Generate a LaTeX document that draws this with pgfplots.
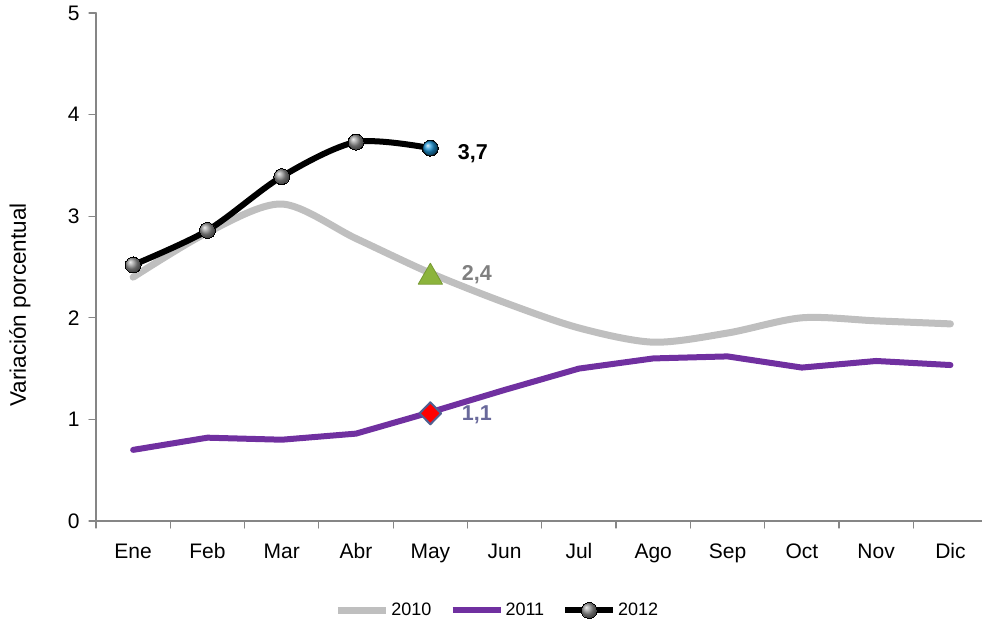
\documentclass[border=0pt]{standalone}
\usepackage{fontspec}
\setmainfont{Liberation Sans}
\usepackage{pgfplots}
\pgfplotsset{compat=1.18}
\definecolor{c2010}{RGB}{191,191,191}
\definecolor{c2011}{RGB}{112,48,160}
\definecolor{axgray}{RGB}{134,134,134}
\definecolor{lab11}{RGB}{105,105,155}
\definecolor{lab10}{RGB}{128,128,128}
\definecolor{tri}{RGB}{140,180,60}
\definecolor{blu}{RGB}{30,150,215}
\definecolor{diaedge}{RGB}{80,95,145}
\begin{document}
\begin{tikzpicture}
\begin{axis}[
  scale only axis, width=886pt, height=508pt,
  xmin=-0.5, xmax=11.425, ymin=0, ymax=5,
  axis lines=left,
  axis line style={-, draw=axgray, line width=1.5pt},
  xtick={-0.5,0.5,...,10.5},
  xticklabels={Ene,Feb,Mar,Abr,May,Jun,Jul,Ago,Sep,Oct,Nov,Dic},
  xticklabel style={xshift=37.15pt, yshift=-19pt, text height=1.6ex, text depth=0.4ex},
  ytick={0,1,2,3,4,5},
  yticklabel style={xshift=-6pt},
  tick align=outside,
  major tick length=7pt,
  tick style={draw=axgray, line width=1.2pt},
  ticklabel style={font=\fontsize{21}{24}\selectfont},
  /pgf/number format/assume math mode=true,
  ylabel={Variación porcentual},
  ylabel style={at={(axis description cs:-0.0858,0.425)}, anchor=center, font=\fontsize{22.5}{24}\selectfont},
  clip=false,
  legend style={at={(axis description cs:0.453,-0.176)}, anchor=center, draw=none, fill=none,
    legend columns=3, font=\fontsize{18}{20}\selectfont,
    /tikz/every even column/.append style={column sep=16pt}},
  legend image code/.code={\draw[mark repeat=2,mark phase=2,#1] plot coordinates {(0pt,0pt) (24pt,0pt) (48pt,0pt)};},
  line cap=round, line join=round,
]
% triangle marker behind gray line
\addplot[forget plot, only marks, mark=triangle*, mark size=14pt, mark options={fill=tri, draw=tri!85!black, line width=0.8pt}] coordinates {(4,2.40)};
\addplot[c2010, line width=7pt, smooth, tension=0.5, no marks] coordinates {
(0,2.40) (1,2.84) (2,3.12) (3,2.78) (4,2.44) (5,2.15) (6,1.90) (7,1.76) (8,1.85) (9,2.00) (10,1.97) (11,1.94)};
\addlegendentry{2010}
\addplot[c2011, line width=6pt, no marks] coordinates {
(0,0.70) (1,0.82) (2,0.80) (3,0.86) (4,1.07) (5,1.29) (6,1.50) (7,1.60) (8,1.62) (9,1.51) (10,1.575) (11,1.535)};
\addlegendentry{2011}
\addplot[black, line width=6pt, smooth, tension=0.5, mark=ball, mark size=8pt, mark options={ball color=gray!85, line width=0pt}] coordinates {
(0,2.52) (1,2.86) (2,3.39) (3,3.73) (4,3.67)};
\addlegendentry{2012}
\addplot[forget plot, only marks, mark=ball, mark size=7.5pt, mark options={ball color=blu}] coordinates {(4,3.67)};
\addplot[forget plot, only marks, mark=diamond*, mark size=11pt, mark options={fill=red, draw=diaedge, line width=2pt, xscale=1.3}] coordinates {(4,1.06)};
\node[anchor=west, font=\fontsize{21.5}{24}\selectfont\bfseries, text=black, xshift=24pt] at (axis cs:4,3.62) {3,7};
\node[anchor=west, font=\fontsize{21.5}{24}\selectfont\bfseries, text=lab10, xshift=28pt] at (axis cs:4,2.42) {2,4};
\node[anchor=west, font=\fontsize{21.5}{24}\selectfont\bfseries, text=lab11, xshift=28pt] at (axis cs:4,1.05) {1,1};
\coordinate (A) at (rel axis cs:0,0);
\coordinate (B) at (rel axis cs:1,1);
\end{axis}
\pgfresetboundingbox
\path[use as bounding box] ([xshift=-96pt,yshift=-104pt]A) rectangle ([yshift=13pt]B);
\end{tikzpicture}
\end{document}
